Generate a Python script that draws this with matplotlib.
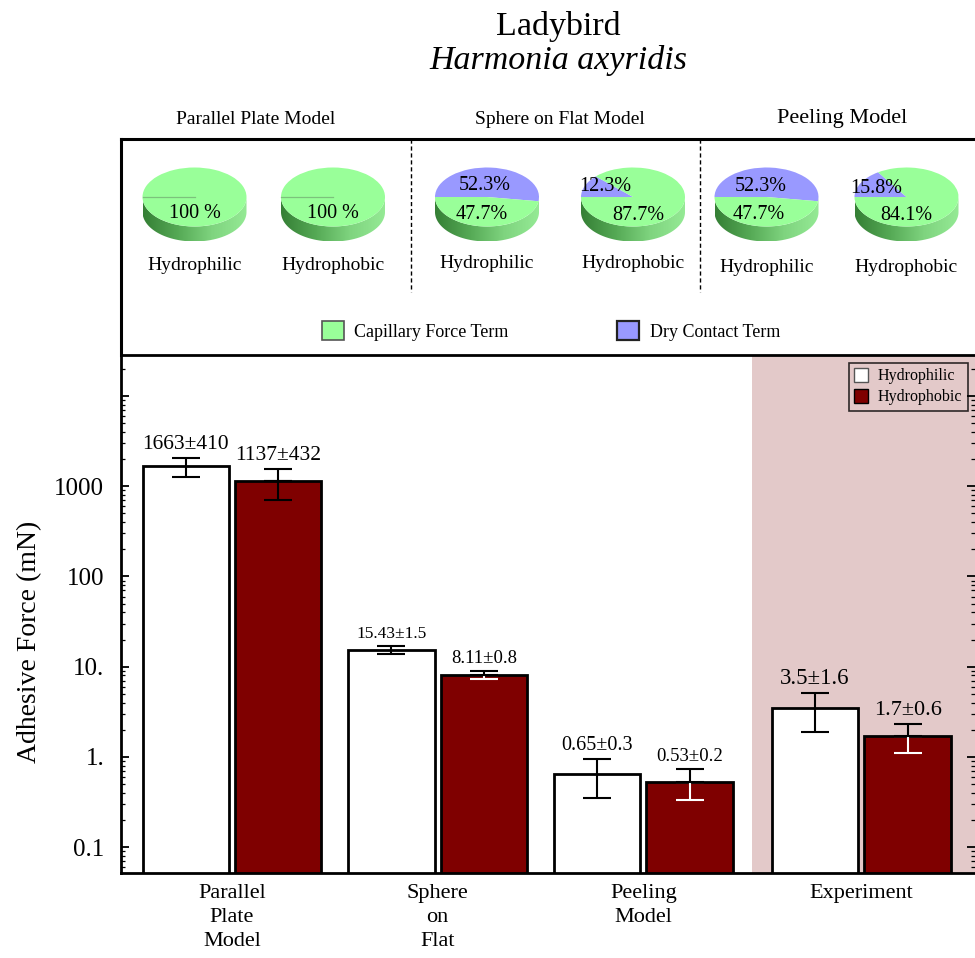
import numpy as np
import matplotlib
matplotlib.use("Agg")
import matplotlib.pyplot as plt
from matplotlib.patches import Patch, Polygon
from matplotlib.colors import LinearSegmentedColormap
from matplotlib.ticker import FixedLocator, LogLocator, NullFormatter, FixedFormatter

plt.rcParams["font.family"] = ["Liberation Serif", "DejaVu Serif"]

# ---------------- data ----------------
groups = ["Parallel\nPlate\nModel", "Sphere\non\nFlat", "Peeling\nModel", "Experiment"]
hydrophilic = [1663, 15.43, 0.65, 3.5]
hydrophilic_err = [410, 1.5, 0.3, 1.6]
hydrophobic = [1137, 8.11, 0.53, 1.7]
hydrophobic_err = [432, 0.8, 0.2, 0.6]

pie_models = ["Parallel Plate Model", "Sphere on Flat Model", "Peeling Model"]
pie_conditions = ["Hydrophilic", "Hydrophobic"]
dry_contact_pct = [[0, 0], [52.3, 12.3], [52.3, 15.8]]
capillary_pct = [[100, 100], [47.7, 87.7], [47.7, 84.1]]

yticks = [0.1, 1, 10, 100, 1000, 10000]
ytick_labels = ["0.1", "1.", "10.", "100", "1000", ""]

# ---------------- styling ----------------
W, H = 975, 958
GREEN = "#99ff99"
BLUE = "#9999ff"
DARKRED = "#7f0000"
SHADE = "#e3c9c9"

fig = plt.figure(figsize=(W / 100, H / 100), dpi=100)


def fx(px):
    return px / W


def fy(py):
    return 1 - py / H


# titles
fig.text(fx(558), fy(35), "Ladybird", ha="center", va="baseline", fontsize=24.5)
fig.text(fx(558), fy(69), "Harmonia axyridis", ha="center", va="baseline",
         fontsize=24.5, style="italic")

# ---------------- pie panel ----------------
panel = fig.add_axes([fx(121), fy(355), 854 / W, 216 / H])
panel.set_xlim(0, 1)
panel.set_ylim(0, 1)
panel.set_xticks([])
panel.set_yticks([])
panel.patch.set_alpha(0)
for s in ["right", "bottom"]:
    panel.spines[s].set_visible(False)
for s in ["left", "top"]:
    panel.spines[s].set_linewidth(2.2)
for sep_px in (411, 700):
    xs = (sep_px - 121) / 854
    panel.plot([xs, xs], [1, (355 - 292) / 216], color="black", lw=1,
               ls=(0, (3, 2)))

section_titles = [(256, 14), (560, 14), (842, 16)]
for name, (tx, fs) in zip(pie_models, section_titles):
    fig.text(fx(tx), fy(119), name, ha="center", va="center", fontsize=fs)

PIE_RX, PIE_RY, PIE_DEPTH, PIE_CY = 52, 29.5, 15, 197
pie_cx = [[194.5, 333], [487, 633], [766.5, 906.5]]
# label anchors inside each pie (dry contact, capillary) in pie units
pie_txt = [
    [[None, (0.0, -0.55)], [None, (0.0, -0.55)]],
    [[(-0.04, 0.38), (-0.1, -0.59)], [(-0.54, 0.34), (0.1, -0.62)]],
    [[(-0.12, 0.36), (-0.15, -0.6)], [(-0.58, 0.28), (0.0, -0.64)]],
]
label_y = [265, 264, 267]
side_cmap = LinearSegmentedColormap.from_list(
    "side", ["#357f35", "#55a955", "#7fd47f", "#95ea95"])

for m in range(3):
    for c in range(2):
        cx = pie_cx[m][c]
        x0 = cx - 1.1 * PIE_RX
        ytop = PIE_CY - 1.15 * PIE_RY
        w = 2.2 * PIE_RX
        h = 2.9 * PIE_RY
        pax = fig.add_axes([fx(x0), fy(ytop + h), w / W, h / H])
        d = PIE_DEPTH / PIE_RY
        t = np.linspace(np.pi, 2 * np.pi, 120)
        sx = np.concatenate([np.cos(t), np.cos(t[::-1])])
        sy = np.concatenate([np.sin(t), np.sin(t[::-1]) - d])
        side = Polygon(np.column_stack([sx, sy]), closed=True,
                       facecolor="none", edgecolor="none")
        pax.add_patch(side)
        grad = np.linspace(0, 1, 256).reshape(1, -1)
        im = pax.imshow(grad, extent=(-1, 1, -1 - d, 0), cmap=side_cmap,
                        aspect="auto", zorder=1)
        im.set_clip_path(side)

        vals, cols = [], []
        if dry_contact_pct[m][c] > 0:
            vals.append(dry_contact_pct[m][c])
            cols.append(BLUE)
        vals.append(capillary_pct[m][c])
        cols.append(GREEN)
        wedges, _ = pax.pie(vals, colors=cols, startangle=180,
                            counterclock=False, radius=1,
                            wedgeprops=dict(linewidth=0))
        for wdg in wedges:
            wdg.set_zorder(2)
        if len(vals) == 1:
            pax.plot([0, np.cos(np.pi)], [0, np.sin(np.pi)], color="#7cc27c",
                     lw=0.9, zorder=3)

        dpos, cpos = pie_txt[m][c]
        if dpos is not None:
            pax.text(dpos[0], dpos[1], f"{dry_contact_pct[m][c]}%",
                     ha="center", va="center", fontsize=14.5, zorder=4)
        ctxt = f"{capillary_pct[m][c]}%" if capillary_pct[m][c] < 100 else \
            f"{capillary_pct[m][c]} %"
        pax.text(cpos[0], cpos[1], ctxt, ha="center", va="center",
                 fontsize=14.5, zorder=4)

        pax.set_xlim(-1.1, 1.1)
        pax.set_ylim(-1.75, 1.15)
        pax.set_aspect("auto")
        pax.axis("off")

        fig.text(fx(cx), fy(label_y[m]), pie_conditions[c], ha="center",
                 va="center", fontsize=14)

panel_handles = [
    Patch(facecolor=GREEN, edgecolor="#555555", lw=1.2, label="Capillary Force Term"),
    Patch(facecolor=BLUE, edgecolor="#222222", lw=1.6, label="Dry Contact Term"),
]
panel.legend(handles=panel_handles, loc="center", ncol=2, frameon=False,
             bbox_to_anchor=(fx(551), fy(331)), bbox_transform=fig.transFigure,
             fontsize=13, handlelength=1.2, handleheight=1.2,
             handletextpad=0.6, columnspacing=6.0)

# ---------------- bar chart ----------------
ax = fig.add_axes([fx(121), fy(873), 854 / W, 518 / H])
ax.set_yscale("log")
centers = np.array([0, 1, 2, 3.06])
off, bw = 0.225, 0.42
x_phil = centers - off
x_phob = centers + off

ax.axvspan(2.529, 3.8, color=SHADE, zorder=0, lw=0)

ax.bar(x_phil, hydrophilic, width=bw, color="white", edgecolor="black",
       lw=2, zorder=2, label="Hydrophilic")
ax.bar(x_phob, hydrophobic, width=bw, color=DARKRED, edgecolor="black",
       lw=2, zorder=2, label="Hydrophobic")

eb = dict(capsize=10, elinewidth=1.5, capthick=1.5, fmt="none", zorder=3)
lower_colors = ["black", "white", "white", "white"]
for i in range(len(groups)):
    ax.errorbar(x_phil[i], hydrophilic[i], yerr=hydrophilic_err[i],
                ecolor="black", **eb)
    ax.errorbar(x_phob[i], hydrophobic[i], yerr=[[hydrophobic_err[i]], [0]],
                ecolor=lower_colors[i], **eb)
    ax.errorbar(x_phob[i], hydrophobic[i], yerr=[[0], [hydrophobic_err[i]]],
                ecolor="black", **eb)

phil_fs = [15.5, 12.5, 14.5, 16.5]
phob_fs = [15.5, 13.5, 13.5, 16]


def fmt(v):
    return f"{v:g}"


for i in range(len(groups)):
    ax.annotate(f"{fmt(hydrophilic[i])}±{fmt(hydrophilic_err[i])}",
                (x_phil[i], hydrophilic[i] + hydrophilic_err[i]),
                xytext=(0, 3), textcoords="offset points", ha="center",
                va="bottom", fontsize=phil_fs[i], zorder=4)
    ax.annotate(f"{fmt(hydrophobic[i])}±{fmt(hydrophobic_err[i])}",
                (x_phob[i], hydrophobic[i] + hydrophobic_err[i]),
                xytext=(0, 3), textcoords="offset points", ha="center",
                va="bottom", fontsize=phob_fs[i], zorder=4)

ax.set_xlim(-0.54, 3.613)
ax.set_ylim(0.0515, 28600)
ax.yaxis.set_major_locator(FixedLocator(yticks))
ax.yaxis.set_major_formatter(FixedFormatter(ytick_labels))
ax.yaxis.set_minor_locator(LogLocator(base=10, subs=np.arange(2, 10)))
ax.yaxis.set_minor_formatter(NullFormatter())
ax.tick_params(axis="y", which="both", direction="in", left=True, right=True,
               labelsize=18, pad=12)
ax.tick_params(axis="y", which="major", length=6, width=1.3)
ax.tick_params(axis="y", which="minor", length=3, width=0.9)

ax.set_xticks(centers)
ax.set_xticklabels(groups, fontsize=16, linespacing=1.35)
ax.tick_params(axis="x", length=0, pad=8)

ax.spines["right"].set_visible(False)
for s in ["left", "top", "bottom"]:
    ax.spines[s].set_linewidth(2)

fig.text(fx(30), fy(642), "Adhesive Force (mN)", rotation=90, ha="center",
         va="center", fontsize=20)

bar_handles = [
    Patch(facecolor="white", edgecolor="#555555", lw=1, label="Hydrophilic"),
    Patch(facecolor=DARKRED, edgecolor="black", lw=1, label="Hydrophobic"),
]
leg = ax.legend(handles=bar_handles, loc="upper right",
                bbox_to_anchor=(0.992, 0.985), frameon=True, fancybox=False,
                edgecolor="black", facecolor="none", framealpha=None,
                fontsize=11.5, handlelength=0.9, handleheight=0.9,
                handletextpad=0.6, borderpad=0.35, labelspacing=0.3,
                borderaxespad=0)
leg.get_frame().set_linewidth(1.2)

fig.savefig("out.png", dpi=100)
